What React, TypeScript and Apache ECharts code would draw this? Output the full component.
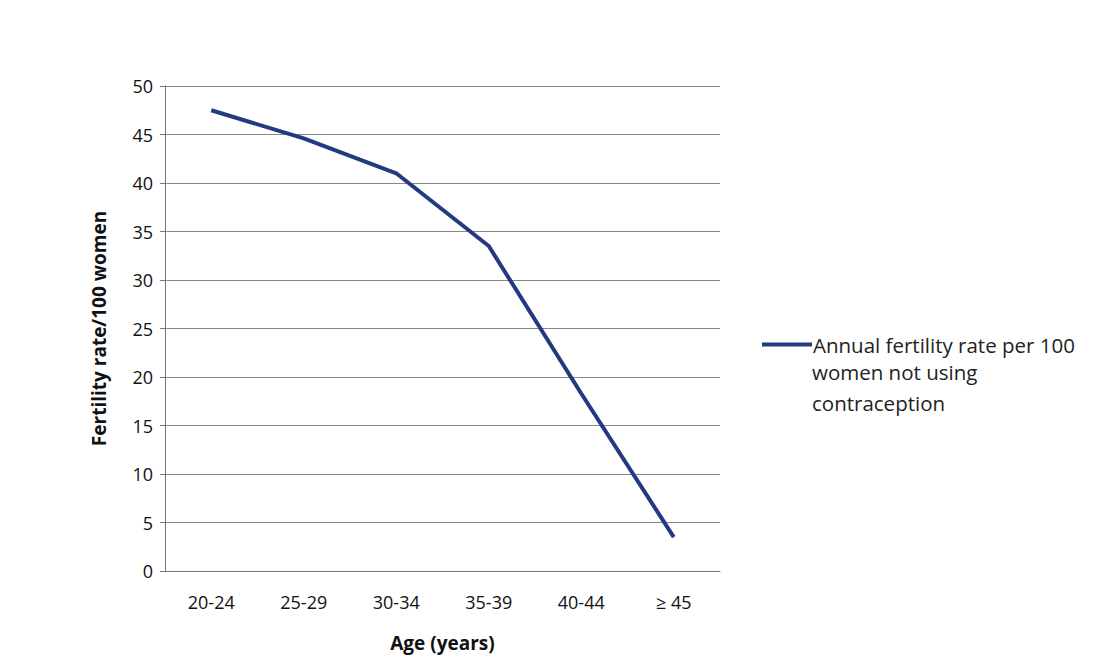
import { useEffect, useRef } from "react";
import * as echarts from "echarts";

const ageGroups = ["20-24", "25-29", "30-34", "35-39", "40-44", "≥ 45"];
const fertilityRate = [47.5, 44.6, 41.0, 33.5, 18.3, 3.5];
const seriesName = "Annual fertility rate per 100";
const legendExtraLines = ["women not using", "contraception"];

export default function App() {
  const ref = useRef<HTMLDivElement | null>(null);

  useEffect(() => {
    if (!ref.current) return;
    const chart = echarts.init(ref.current, undefined, { renderer: "svg" });
    const font = "'Open Sans', 'Liberation Sans', sans-serif";
    chart.setOption({
      animation: false,
      backgroundColor: "#ffffff",
      textStyle: { fontFamily: font },
      grid: { left: 165, top: 86, width: 555, height: 485 },
      legend: {
        left: 757,
        top: 329,
        itemWidth: 50,
        itemHeight: 4,
        icon: "rect",
        itemGap: 4,
        textStyle: { fontSize: 20.5, color: "#222", fontFamily: font, padding: [0, 0, 0, -4] },
        data: [seriesName],
      },
      graphic: legendExtraLines.map((t, i) => ({
        type: "text",
        left: 812,
        top: 361 + i * 31,
        style: { text: t, fontSize: 20.5, fill: "#222", fontFamily: font },
      })),
      xAxis: {
        type: "category",
        data: ageGroups,
        boundaryGap: true,
        name: "Age (years)",
        nameLocation: "middle",
        nameGap: 62,
        nameTextStyle: { fontSize: 19, fontWeight: "bold", color: "#111", fontFamily: font },
        axisLine: { lineStyle: { color: "#777", width: 1 } },
        axisTick: { show: false },
        axisLabel: { fontSize: 18, color: "#111", margin: 22, fontFamily: font },
      },
      yAxis: {
        type: "value",
        min: 0,
        max: 50,
        interval: 5,
        name: "Fertility rate/100 women",
        nameLocation: "middle",
        nameGap: 57,
        nameTextStyle: { fontSize: 19, fontWeight: "bold", color: "#111", fontFamily: font },
        axisLine: { show: true, lineStyle: { color: "#777" } },
        axisTick: { show: true, length: 5, lineStyle: { color: "#777" } },
        axisLabel: { fontSize: 18, color: "#111", margin: 12, fontFamily: font },
        splitLine: { lineStyle: { color: "#888", width: 1.2 } },
      },
      series: [
        {
          name: seriesName,
          type: "line",
          data: fertilityRate,
          showSymbol: false,
          lineStyle: { color: "#233a80", width: 4 },
          itemStyle: { color: "#233a80" },
        },
      ],
    });
    return () => chart.dispose();
  }, []);

  return (
    <div
      ref={ref}
      style={{ position: "absolute", left: 0, top: 0, width: 1099, height: 672 }}
    />
  );
}
